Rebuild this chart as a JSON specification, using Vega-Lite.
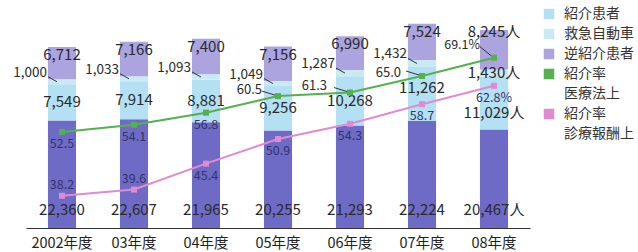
{
  "$schema": "https://vega.github.io/schema/vega-lite/v6.json",
  "width": 504,
  "height": 228,
  "autosize": {"type": "none"},
  "padding": {"left": 26, "top": 0, "right": 108, "bottom": 24},
  "background": "#ffffff",
  "config": {"view": {"stroke": null}, "font": "Noto Sans CJK JP", "text": {"font": "Noto Sans CJK JP", "color": "#2a2a2a"}},
  "datasets": {
    "counts": [
      {"year": "2002年度", "series": "初診患者", "order": 1, "value": 22360, "label": "22,360"},
      {"year": "03年度", "series": "初診患者", "order": 1, "value": 22607, "label": "22,607"},
      {"year": "04年度", "series": "初診患者", "order": 1, "value": 21965, "label": "21,965"},
      {"year": "05年度", "series": "初診患者", "order": 1, "value": 20255, "label": "20,255"},
      {"year": "06年度", "series": "初診患者", "order": 1, "value": 21293, "label": "21,293"},
      {"year": "07年度", "series": "初診患者", "order": 1, "value": 22224, "label": "22,224"},
      {"year": "08年度", "series": "初診患者", "order": 1, "value": 20467, "label": "20,467人"},
      {"year": "2002年度", "series": "紹介患者", "order": 2, "value": 7549, "label": "7,549"},
      {"year": "03年度", "series": "紹介患者", "order": 2, "value": 7914, "label": "7,914"},
      {"year": "04年度", "series": "紹介患者", "order": 2, "value": 8881, "label": "8,881"},
      {"year": "05年度", "series": "紹介患者", "order": 2, "value": 9256, "label": "9,256"},
      {"year": "06年度", "series": "紹介患者", "order": 2, "value": 10268, "label": "10,268"},
      {"year": "07年度", "series": "紹介患者", "order": 2, "value": 11262, "label": "11,262"},
      {"year": "08年度", "series": "紹介患者", "order": 2, "value": 11029, "label": "11,029人"},
      {"year": "2002年度", "series": "救急自動車", "order": 3, "value": 1000, "label": "1,000"},
      {"year": "03年度", "series": "救急自動車", "order": 3, "value": 1033, "label": "1,033"},
      {"year": "04年度", "series": "救急自動車", "order": 3, "value": 1093, "label": "1,093"},
      {"year": "05年度", "series": "救急自動車", "order": 3, "value": 1049, "label": "1,049"},
      {"year": "06年度", "series": "救急自動車", "order": 3, "value": 1287, "label": "1,287"},
      {"year": "07年度", "series": "救急自動車", "order": 3, "value": 1432, "label": "1,432"},
      {"year": "08年度", "series": "救急自動車", "order": 3, "value": 1430, "label": "1,430人"},
      {"year": "2002年度", "series": "逆紹介患者", "order": 4, "value": 6712, "label": "6,712"},
      {"year": "03年度", "series": "逆紹介患者", "order": 4, "value": 7166, "label": "7,166"},
      {"year": "04年度", "series": "逆紹介患者", "order": 4, "value": 7400, "label": "7,400"},
      {"year": "05年度", "series": "逆紹介患者", "order": 4, "value": 7156, "label": "7,156"},
      {"year": "06年度", "series": "逆紹介患者", "order": 4, "value": 6990, "label": "6,990"},
      {"year": "07年度", "series": "逆紹介患者", "order": 4, "value": 7524, "label": "7,524"},
      {"year": "08年度", "series": "逆紹介患者", "order": 4, "value": 8245, "label": "8,245人"}
    ],
    "rates": [
      {"year": "2002年度", "series": "医療法上", "value": 52.5, "label": "52.5"},
      {"year": "03年度", "series": "医療法上", "value": 54.1, "label": "54.1"},
      {"year": "04年度", "series": "医療法上", "value": 56.8, "label": "56.8"},
      {"year": "05年度", "series": "医療法上", "value": 60.5, "label": "60.5"},
      {"year": "06年度", "series": "医療法上", "value": 61.3, "label": "61.3"},
      {"year": "07年度", "series": "医療法上", "value": 65.0, "label": "65.0"},
      {"year": "08年度", "series": "医療法上", "value": 69.1, "label": "69.1%"},
      {"year": "2002年度", "series": "診療報酬上", "value": 38.2, "label": "38.2"},
      {"year": "03年度", "series": "診療報酬上", "value": 39.6, "label": "39.6"},
      {"year": "04年度", "series": "診療報酬上", "value": 45.4, "label": "45.4"},
      {"year": "05年度", "series": "診療報酬上", "value": 50.9, "label": "50.9"},
      {"year": "06年度", "series": "診療報酬上", "value": 54.3, "label": "54.3"},
      {"year": "07年度", "series": "診療報酬上", "value": 58.7, "label": "58.7"},
      {"year": "08年度", "series": "診療報酬上", "value": 62.8, "label": "62.8%"}
    ]
  },
  "resolve": {"scale": {"y": "independent"}},
  "layer": [
    {
      "data": {"name": "counts"},
      "transform": [{"stack": "value", "groupby": ["year"], "sort": [{"field": "order"}], "as": ["v0", "v1"]}],
      "mark": {"type": "bar"},
      "encoding": {
        "x": {"field": "year", "type": "nominal", "sort": null, "scale": {"paddingInner": 0.61},
          "axis": {"title": null, "labelAngle": 0, "domainColor": "#333333", "domainWidth": 1.2, "ticks": false, "grid": false, "labelFontSize": 14.5, "labelColor": "#222222", "labelPadding": 8, "labelFont": "Noto Sans CJK JP"}},
        "y": {"field": "v0", "type": "quantitative", "scale": {"domain": [0, 47400], "nice": false}, "axis": null},
        "y2": {"field": "v1"},
        "color": {"field": "series", "type": "nominal",
          "scale": {"domain": ["初診患者", "紹介患者", "救急自動車", "逆紹介患者", "紹介率 医療法上", "紹介率 診療報酬上"],
                    "range": ["#6e6bc6", "#b3e0f3", "#cbe9f3", "#aba4de", "#55b04f", "#e08ad0"]},
          "legend": {"values": ["紹介患者", "救急自動車", "逆紹介患者", "紹介率 医療法上", "紹介率 診療報酬上"],
            "title": null, "orient": "none", "legendX": 516, "legendY": 7, "symbolType": "square", "symbolSize": 110, "symbolStrokeWidth": 0,
            "labelFontSize": 14, "labelColor": "#333333", "labelFont": "Noto Sans CJK JP", "rowPadding": 6, "labelOffset": 8,
            "labelExpr": "indexof(datum.label, ' ') > 0 ? split(datum.label, ' ') : datum.label",
            "encode": {"labels": {"update": {"lineHeight": {"value": 20}}}}}}
      }
    },
    {
      "data": {"name": "counts"},
      "transform": [{"stack": "value", "groupby": ["year"], "sort": [{"field": "order"}], "as": ["v0", "v1"]}, {"filter": "datum.series == '初診患者'"}],
      "mark": {"type": "text", "fontSize": 15, "dy": -18},
      "encoding": {
        "x": {"field": "year", "type": "nominal", "sort": null},
        "y": {"field": "v0", "type": "quantitative", "scale": {"domain": [0, 47400], "nice": false}, "axis": null},
        "text": {"field": "label"}
      }
    },
    {
      "data": {"name": "counts"},
      "transform": [{"stack": "value", "groupby": ["year"], "sort": [{"field": "order"}], "as": ["v0", "v1"]}, {"filter": "(datum.series == '紹介患者' && datum.year != '07年度' && datum.year != '08年度') || (datum.series == '救急自動車' && datum.year == '08年度')"}, {"calculate": "(datum.v0 + datum.v1) / 2", "as": "mid"}],
      "mark": {"type": "text", "fontSize": 15},
      "encoding": {
        "x": {"field": "year", "type": "nominal", "sort": null},
        "y": {"field": "mid", "type": "quantitative", "scale": {"domain": [0, 47400], "nice": false}, "axis": null},
        "text": {"field": "label"}
      }
    },
    {
      "data": {"name": "counts"},
      "transform": [{"stack": "value", "groupby": ["year"], "sort": [{"field": "order"}], "as": ["v0", "v1"]}, {"filter": "datum.series == '紹介患者' && datum.year == '07年度'"}, {"calculate": "(datum.v0 + datum.v1) / 2", "as": "mid"}],
      "mark": {"type": "text", "fontSize": 15, "dy": -6},
      "encoding": {
        "x": {"field": "year", "type": "nominal", "sort": null},
        "y": {"field": "mid", "type": "quantitative", "scale": {"domain": [0, 47400], "nice": false}, "axis": null},
        "text": {"field": "label"}
      }
    },
    {
      "data": {"name": "counts"},
      "transform": [{"stack": "value", "groupby": ["year"], "sort": [{"field": "order"}], "as": ["v0", "v1"]}, {"filter": "datum.series == '紹介患者' && datum.year == '08年度'"}, {"calculate": "(datum.v0 + datum.v1) / 2", "as": "mid"}],
      "mark": {"type": "text", "fontSize": 15, "dy": 10},
      "encoding": {
        "x": {"field": "year", "type": "nominal", "sort": null},
        "y": {"field": "mid", "type": "quantitative", "scale": {"domain": [0, 47400], "nice": false}, "axis": null},
        "text": {"field": "label"}
      }
    },
    {
      "data": {"name": "counts"},
      "transform": [{"stack": "value", "groupby": ["year"], "sort": [{"field": "order"}], "as": ["v0", "v1"]}, {"filter": "datum.series == '救急自動車' && datum.year != '08年度'"}, {"calculate": "(datum.v0 + datum.v1) / 2", "as": "mid"}],
      "mark": {"type": "text", "fontSize": 13.5, "align": "right", "dx": -1, "dy": -9},
      "encoding": {
        "x": {"field": "year", "type": "nominal", "sort": null, "bandPosition": 0},
        "y": {"field": "mid", "type": "quantitative", "scale": {"domain": [0, 47400], "nice": false}, "axis": null},
        "text": {"field": "label"}
      }
    },
    {
      "data": {"name": "counts"},
      "transform": [{"stack": "value", "groupby": ["year"], "sort": [{"field": "order"}], "as": ["v0", "v1"]}, {"filter": "datum.series == '救急自動車' && datum.year != '08年度'"}, {"calculate": "(datum.v0 + datum.v1) / 2", "as": "mid"}],
      "mark": {"type": "rule", "color": "#333333", "strokeWidth": 1, "xOffset": 0, "x2Offset": 9, "yOffset": -5, "y2Offset": 0},
      "encoding": {
        "x": {"field": "year", "type": "nominal", "sort": null, "bandPosition": 0},
        "x2": {"field": "year", "bandPosition": 0},
        "y": {"field": "mid", "type": "quantitative", "scale": {"domain": [0, 47400], "nice": false}, "axis": null},
        "y2": {"field": "mid"}
      }
    },
    {
      "data": {"name": "counts"},
      "transform": [{"stack": "value", "groupby": ["year"], "sort": [{"field": "order"}], "as": ["v0", "v1"]}, {"filter": "datum.series == '逆紹介患者' && datum.year != '08年度'"}],
      "mark": {"type": "text", "fontSize": 15, "dy": 8},
      "encoding": {
        "x": {"field": "year", "type": "nominal", "sort": null},
        "y": {"field": "v1", "type": "quantitative", "scale": {"domain": [0, 47400], "nice": false}, "axis": null},
        "text": {"field": "label"}
      }
    },
    {
      "data": {"name": "counts"},
      "transform": [{"stack": "value", "groupby": ["year"], "sort": [{"field": "order"}], "as": ["v0", "v1"]}, {"filter": "datum.series == '逆紹介患者' && datum.year == '08年度'"}],
      "mark": {"type": "text", "fontSize": 15, "dy": 2},
      "encoding": {
        "x": {"field": "year", "type": "nominal", "sort": null},
        "y": {"field": "v1", "type": "quantitative", "scale": {"domain": [0, 47400], "nice": false}, "axis": null},
        "text": {"field": "label"}
      }
    },
    {
      "data": {"name": "rates"},
      "transform": [{"filter": "datum.series == '医療法上'"}],
      "mark": {"type": "line", "color": "#55b04f", "strokeWidth": 2, "point": {"shape": "square", "filled": true, "size": 36, "color": "#55b04f"}},
      "encoding": {
        "x": {"field": "year", "type": "nominal", "sort": null},
        "y": {"field": "value", "type": "quantitative", "scale": {"domain": [31, 82], "nice": false, "zero": false}, "axis": null}
      }
    },
    {
      "data": {"name": "rates"},
      "transform": [{"filter": "datum.series == '診療報酬上'"}],
      "mark": {"type": "line", "color": "#e08ad0", "strokeWidth": 2, "point": {"shape": "square", "filled": true, "size": 36, "color": "#e08ad0"}},
      "encoding": {
        "x": {"field": "year", "type": "nominal", "sort": null},
        "y": {"field": "value", "type": "quantitative", "scale": {"domain": [31, 82], "nice": false, "zero": false}, "axis": null}
      }
    },
    {
      "data": {"name": "rates"},
      "transform": [{"filter": "(datum.series == '医療法上' && indexof(['2002年度','03年度','04年度'], datum.year) >= 0) || (datum.series == '診療報酬上' && indexof(['2002年度','03年度'], datum.year) < 0)"}],
      "mark": {"type": "text", "fontSize": 12.5, "dy": 12, "color": "#33336a"},
      "encoding": {
        "x": {"field": "year", "type": "nominal", "sort": null},
        "y": {"field": "value", "type": "quantitative", "scale": {"domain": [31, 82], "nice": false, "zero": false}, "axis": null},
        "text": {"field": "label"}
      }
    },
    {
      "data": {"name": "rates"},
      "transform": [{"filter": "datum.series == '診療報酬上' && indexof(['2002年度','03年度'], datum.year) >= 0"}],
      "mark": {"type": "text", "fontSize": 12.5, "dy": -11, "color": "#33336a"},
      "encoding": {
        "x": {"field": "year", "type": "nominal", "sort": null},
        "y": {"field": "value", "type": "quantitative", "scale": {"domain": [31, 82], "nice": false, "zero": false}, "axis": null},
        "text": {"field": "label"}
      }
    },
    {
      "data": {"name": "rates"},
      "transform": [{"filter": "datum.series == '医療法上' && datum.year == '05年度'"}],
      "mark": {"type": "text", "fontSize": 13, "align": "right", "dx": -16, "dy": -6},
      "encoding": {
        "x": {"field": "year", "type": "nominal", "sort": null},
        "y": {"field": "value", "type": "quantitative", "scale": {"domain": [31, 82], "nice": false, "zero": false}, "axis": null},
        "text": {"field": "label"}
      }
    },
    {
      "data": {"name": "rates"},
      "transform": [{"filter": "datum.series == '医療法上' && datum.year == '06年度'"}],
      "mark": {"type": "text", "fontSize": 13, "align": "right", "dx": -23, "dy": -7},
      "encoding": {
        "x": {"field": "year", "type": "nominal", "sort": null},
        "y": {"field": "value", "type": "quantitative", "scale": {"domain": [31, 82], "nice": false, "zero": false}, "axis": null},
        "text": {"field": "label"}
      }
    },
    {
      "data": {"name": "rates"},
      "transform": [{"filter": "datum.series == '医療法上' && datum.year == '07年度'"}],
      "mark": {"type": "text", "fontSize": 13, "align": "right", "dx": -21, "dy": -3},
      "encoding": {
        "x": {"field": "year", "type": "nominal", "sort": null},
        "y": {"field": "value", "type": "quantitative", "scale": {"domain": [31, 82], "nice": false, "zero": false}, "axis": null},
        "text": {"field": "label"}
      }
    },
    {
      "data": {"name": "rates"},
      "transform": [{"filter": "datum.series == '医療法上' && datum.year == '08年度'"}],
      "mark": {"type": "text", "fontSize": 12.5, "align": "right", "dx": -14, "dy": -13},
      "encoding": {
        "x": {"field": "year", "type": "nominal", "sort": null},
        "y": {"field": "value", "type": "quantitative", "scale": {"domain": [31, 82], "nice": false, "zero": false}, "axis": null},
        "text": {"field": "label"}
      }
    },
    {
      "data": {"name": "rates"},
      "transform": [{"filter": "datum.series == '医療法上' && (datum.year == '05年度' || datum.year == '06年度' || datum.year == '07年度')"}],
      "mark": {"type": "rule", "color": "#333333", "strokeWidth": 1, "xOffset": -16, "x2Offset": -3, "yOffset": -5, "y2Offset": -1},
      "encoding": {
        "x": {"field": "year", "type": "nominal", "sort": null},
        "x2": {"field": "year"},
        "y": {"field": "value", "type": "quantitative", "scale": {"domain": [31, 82], "nice": false, "zero": false}, "axis": null},
        "y2": {"field": "value"}
      }
    },
    {
      "data": {"name": "rates"},
      "transform": [{"filter": "datum.series == '医療法上' && datum.year == '08年度'"}],
      "mark": {"type": "rule", "color": "#333333", "strokeWidth": 1, "xOffset": -14, "x2Offset": -3, "yOffset": -11, "y2Offset": -2},
      "encoding": {
        "x": {"field": "year", "type": "nominal", "sort": null},
        "x2": {"field": "year"},
        "y": {"field": "value", "type": "quantitative", "scale": {"domain": [31, 82], "nice": false, "zero": false}, "axis": null},
        "y2": {"field": "value"}
      }
    }
  ]
}
